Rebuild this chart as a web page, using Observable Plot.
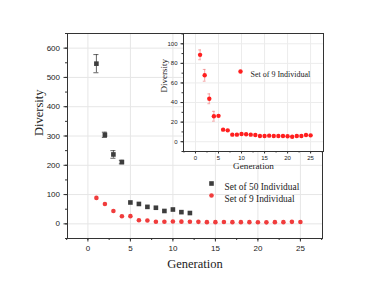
<!DOCTYPE html>
<html><head><meta charset="utf-8">
<script src="https://cdn.jsdelivr.net/npm/d3@7"></script>
<script src="https://cdn.jsdelivr.net/npm/@observablehq/plot@0.6"></script>
<style>
body{margin:0;background:#fff;}
#wrap{position:relative;width:374px;height:286px;}
#wrap > svg{position:absolute;left:0;top:0;}
</style>
</head><body><div id="wrap"></div>
<script>
// Data
const gen50 = [1,2,3,4,5,6,7,8,9,10,11,12];
const div50 = [547,304,237,211,73,68,58,55,44,49,40,37];
const err50 = [31,9,13,6,3,2,2,2,2,2,2,2];
const gen9 = [1,2,3,4,5,6,7,8,9,10,11,12,13,14,15,16,17,18,19,20,21,22,23,24,25];
const div9 = [88.7,67.8,43.8,26,26.4,12.3,11.6,7.2,7.2,7.9,7.6,7.2,6.8,5.8,5.8,6.2,5.8,5.8,5.8,5.5,5.1,5.8,5.8,6.8,6.5];
const err9 = [5,6,5,5,1,1,1,1,0.5,0.5,0.5,0.5,0.5,0.5,0.5,0.5,0.5,0.5,0.5,0.5,0.5,0.5,0.5,0.5,0.5];
const xTicks = [0,5,10,15,20,25];
const yTicksMain = [0,100,200,300,400,500,600];
const yTicksInset = [0,20,40,60,80,100];
const legendMain = ["Set of 50 Individual","Set of 9 Individual"];
const legendInset = ["Set of 9 Individual"];
const xLabel = "Generation", yLabel = "Diversity";

const s50 = gen50.map((g,i)=>({g, v:div50[i], e:err50[i]}));
const s9 = gen9.map((g,i)=>({g, v:div9[i], e:err9[i]}));

const GRAY = "#3d3d3d", RED = "#f03c3c", RED2 = "#ff1f1f";
const serif = "'Liberation Serif', 'Times New Roman', serif";
const sans = "'Liberation Sans', Arial, sans-serif";

const minorX = d3.range(-2.5, 27.6, 2.5);
const minorYMain = d3.range(-50, 651, 50);
const minorYInset = d3.range(-10, 111, 10);

const main = Plot.plot({
  width: 374, height: 286,
  marginLeft: 67, marginTop: 33, marginRight: 52, marginBottom: 48,
  style: {fontFamily: sans, fontSize: "8px", color: "#222", background: "transparent"},
  x: {domain: [-2.4, 27.6]},
  y: {domain: [-50, 650]},
  marks: [
    Plot.gridX(xTicks, {stroke: "#e6e6e6", strokeOpacity: 1}),
    Plot.gridY(yTicksMain, {stroke: "#e6e6e6", strokeOpacity: 1}),
    Plot.frame({stroke: "#333", strokeWidth: 1}),
    Plot.axisX(minorX, {tickSize: 2, text: null, label: null, stroke: "#333"}),
    Plot.axisY(minorYMain, {tickSize: 2, text: null, label: null, stroke: "#333"}),
    Plot.axisX(xTicks, {tickSize: 3.5, tickPadding: 3, label: null, stroke: "#333", fontSize: 8}),
    Plot.axisY(yTicksMain, {tickSize: 3.5, tickPadding: 4, label: null, stroke: "#333", fontSize: 8}),
    Plot.ruleX(s50, {x: "g", y1: d => d.v - d.e, y2: d => d.v + d.e, stroke: GRAY, strokeWidth: 0.8}),
    Plot.ruleY(s50.filter(d => d.e > 4), {y: d => d.v - d.e, x1: d => d.g - 0.3, x2: d => d.g + 0.3, stroke: GRAY, strokeWidth: 0.8}),
    Plot.ruleY(s50.filter(d => d.e > 4), {y: d => d.v + d.e, x1: d => d.g - 0.3, x2: d => d.g + 0.3, stroke: GRAY, strokeWidth: 0.8}),
    Plot.dot(s50, {x: "g", y: "v", symbol: "square", r: 2.6, fill: GRAY}),
    Plot.dot(s9, {x: "g", y: "v", r: 2.3, fill: RED}),
    // legend
    Plot.dot([legendMain[0]], {frameAnchor: "top-left", dx: 144, dy: 150, symbol: "square", r: 2.6, fill: GRAY}),
    Plot.dot([legendMain[1]], {frameAnchor: "top-left", dx: 144, dy: 162, r: 2.3, fill: RED}),
    Plot.text([legendMain[0]], {frameAnchor: "top-left", dx: 157, dy: 150, text: d => d, textAnchor: "start", fontFamily: serif, fontSize: 9.4, fill: "#222"}),
    Plot.text([legendMain[1]], {frameAnchor: "top-left", dx: 157, dy: 162, text: d => d, textAnchor: "start", fontFamily: serif, fontSize: 9.4, fill: "#222"}),
    // axis labels
    Plot.text([yLabel], {frameAnchor: "left", dx: -29, rotate: -90, text: d => d, fontFamily: serif, fontSize: 12.5, fill: "#222"}),
    Plot.text([xLabel], {frameAnchor: "bottom", dy: 29, text: d => d, fontFamily: serif, fontSize: 12.5, fill: "#222"})
  ]
});

const inset = Plot.plot({
  width: 374, height: 286,
  marginLeft: 183, marginTop: 33, marginRight: 51, marginBottom: 135,
  style: {fontFamily: sans, fontSize: "6px", color: "#222", background: "transparent"},
  x: {domain: [-2.6, 27.8]},
  y: {domain: [-10, 110.5]},
  marks: [
    Plot.frame({fill: "#fff", stroke: "none"}),
    Plot.gridX(xTicks, {stroke: "#ececec", strokeOpacity: 1}),
    Plot.gridY(yTicksInset, {stroke: "#ececec", strokeOpacity: 1}),
    Plot.frame({stroke: "#333", strokeWidth: 1}),
    Plot.axisX(minorX, {tickSize: 1.5, text: null, label: null, stroke: "#333"}),
    Plot.axisY(minorYInset, {tickSize: 1.5, text: null, label: null, stroke: "#333"}),
    Plot.axisX(xTicks, {tickSize: 2.5, tickPadding: 2, label: null, stroke: "#333", fontSize: 6}),
    Plot.axisY(yTicksInset, {tickSize: 2.5, tickPadding: 3.5, label: null, stroke: "#333", fontSize: 6}),
    Plot.ruleX(s9, {x: "g", y1: d => d.v - d.e, y2: d => d.v + d.e, stroke: "#f08080", strokeWidth: 0.7}),
    Plot.ruleY(s9.filter(d => d.e > 2), {y: d => d.v - d.e, x1: d => d.g - 0.3, x2: d => d.g + 0.3, stroke: "#f08080", strokeWidth: 0.7}),
    Plot.ruleY(s9.filter(d => d.e > 2), {y: d => d.v + d.e, x1: d => d.g - 0.3, x2: d => d.g + 0.3, stroke: "#f08080", strokeWidth: 0.7}),
    Plot.dot(s9, {x: "g", y: "v", r: 2.2, fill: RED2}),
    Plot.dot(legendInset, {frameAnchor: "top-left", dx: 57, dy: 38, r: 2.2, fill: RED2}),
    Plot.text(legendInset, {frameAnchor: "top-left", dx: 67, dy: 38, text: d => d, textAnchor: "start", fontFamily: serif, fontSize: 8, fill: "#222"}),
    Plot.text([yLabel], {frameAnchor: "left", dx: -19, rotate: -90, text: d => d, fontFamily: serif, fontSize: 9, fill: "#222"}),
    Plot.text([xLabel], {frameAnchor: "bottom", dy: 17, text: d => d, fontFamily: serif, fontSize: 9.2, fill: "#222"})
  ]
});

const wrap = document.getElementById("wrap");
wrap.appendChild(main);
wrap.appendChild(inset);
</script></body></html>
